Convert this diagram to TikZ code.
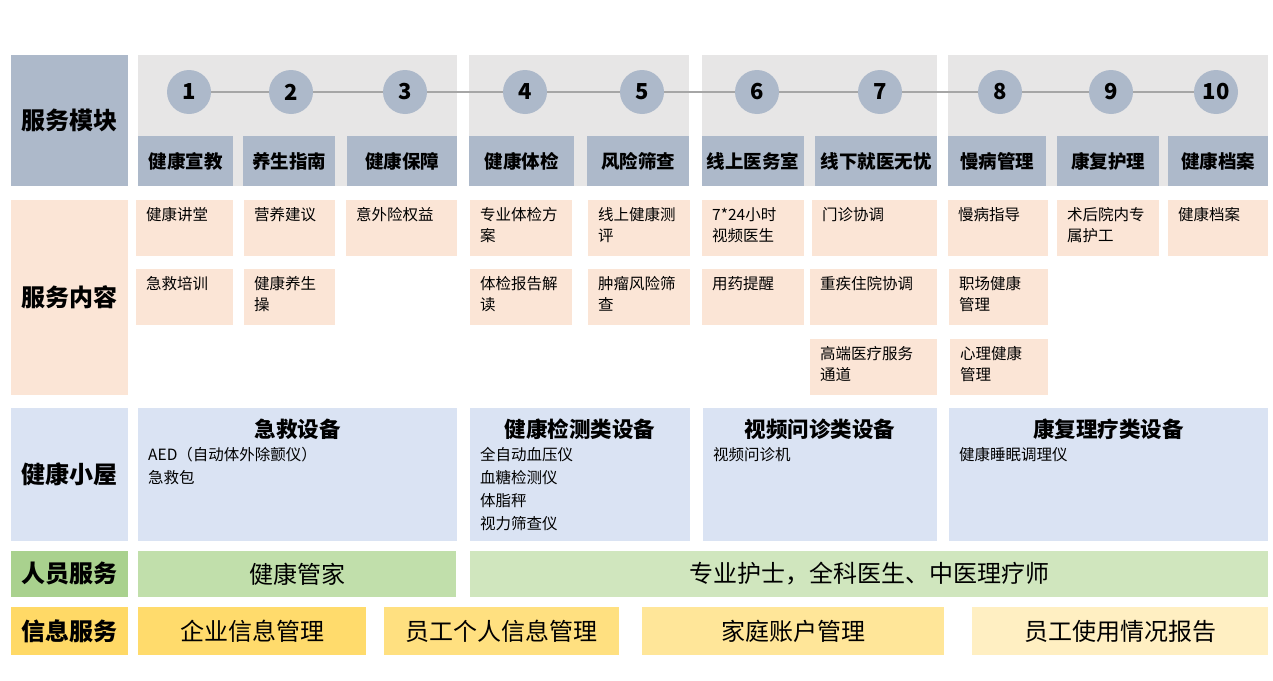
\documentclass[tikz,border=0pt]{standalone}
\usepackage{fontspec}
\setmainfont{Noto Sans CJK SC}
\newcommand\fs[2]{\fontsize{#1}{#2}\selectfont}
\definecolor{modc}{HTML}{ADB9CA}
\definecolor{panelc}{HTML}{E7E6E6}
\definecolor{contc}{HTML}{FBE5D6}
\definecolor{hutc}{HTML}{DAE3F3}
\definecolor{grnA}{HTML}{A9D18E}
\definecolor{grnB}{HTML}{C1DFAB}
\definecolor{grnC}{HTML}{D0E6BE}
\definecolor{ylwA}{HTML}{FFD966}
\definecolor{ylwB}{HTML}{FFDB6C}
\definecolor{ylwC}{HTML}{FFE080}
\definecolor{ylwD}{HTML}{FFE699}
\definecolor{ylwE}{HTML}{FFEFC2}
\definecolor{linec}{HTML}{A6A6A6}
\tikzset{
  rect/.style={fill=#1, draw=none, inner sep=0, outer sep=0, anchor=north west},
  lab/.style={rect=#1, font=\bfseries\fs{24}{28}},
  mod/.style={rect=modc, font=\bfseries\fs{18.5}{22}},
  circ/.style={circle, fill=modc, minimum size=44pt, inner sep=0, font=\bfseries\fs{22}{24}},
  conn/.style={draw=linec, line width=2pt},
  ctext/.style={anchor=north west, inner sep=0, align=left, font=\fs{15.5}{21}},
  htitle/.style={inner sep=0, font=\bfseries\fs{21.5}{24}},
  hitems/.style={anchor=north west, inner sep=0, align=left, font=\fs{15.5}{23}},
  bigtext/.style={font=\fs{24}{28}}
}
% #1 style, #2 x1, #3 y1, #4 x2, #5 y2, #6 name, #7 text
\newcommand\rb[7]{\node[#1, minimum width={#4-#2}, minimum height={#5-#3}] (#6) at (#2,#3) {#7};}
% content box: #1 name, #2..#5 coords, #6 text
\newcommand\cb[6]{\node[rect=contc, minimum width={#4-#2}, minimum height={#5-#3}] (#1) at (#2,#3) {};
  \node[ctext] (#1t) at ([shift={(10,7)}]#1.north west) {#6};}
\begin{document}
\begin{tikzpicture}[x=1pt,y=-1pt]
\useasboundingbox[fill=white] (0,0) rectangle (1273,680);

% ---------- Row 1: service modules ----------
\rb{lab=modc}{11}{55}{128}{186}{L1}{服务模块}
\rb{rect=panelc}{138}{55}{457}{186}{P1}{}
\rb{rect=panelc}{469}{55}{689}{186}{P2}{}
\rb{rect=panelc}{702}{55}{937}{186}{P3}{}
\rb{rect=panelc}{948}{55}{1268}{186}{P4}{}

\rb{mod}{138}{136}{233}{186}{M1}{健康宣教}
\rb{mod}{243}{136}{335}{186}{M2}{养生指南}
\rb{mod}{347}{136}{457}{186}{M3}{健康保障}
\rb{mod}{469}{136}{574}{186}{M4}{健康体检}
\rb{mod}{587}{136}{689}{186}{M5}{风险筛查}
\rb{mod}{702}{136}{804}{186}{M6}{线上医务室}
\rb{mod}{815}{136}{937}{186}{M7}{线下就医无忧}
\rb{mod}{948}{136}{1046}{186}{M8}{慢病管理}
\rb{mod}{1057}{136}{1159}{186}{M9}{康复护理}
\rb{mod}{1168}{136}{1268}{186}{M10}{健康档案}

\node[circ] (c1) at (189,92) {1};
\node[circ] (c2) at (291,92) {2};
\node[circ] (c3) at (405,92) {3};
\node[circ] (c4) at (525,92) {4};
\node[circ] (c5) at (642,92) {5};
\node[circ] (c6) at (757,92) {6};
\node[circ] (c7) at (880,92) {7};
\node[circ] (c8) at (1000,92) {8};
\node[circ] (c9) at (1111,92) {9};
\node[circ] (c10) at (1216,92) {\raisebox{-2pt}{10}};
\foreach \i/\j in {1/2,2/3,3/4,4/5,5/6,6/7,7/8,8/9,9/10}
  \draw[conn] (c\i) -- (c\j);

% ---------- Row 2: service contents ----------
\rb{lab=contc}{11}{200}{128}{395}{L2}{服务内容}
\cb{a1}{136}{200}{233}{256}{健康讲堂}
\cb{b1}{136}{269}{233}{325}{急救培训}
\cb{a2}{244}{200}{335}{256}{营养建议}
\cb{b2}{244}{269}{335}{325}{健康养生\\操}
\cb{a3}{346}{200}{457}{256}{意外险权益}
\cb{a4}{470}{200}{572}{256}{专业体检方\\案}
\cb{b4}{470}{269}{572}{325}{体检报告解\\读}
\cb{a5}{588}{200}{690}{256}{线上健康测\\评}
\cb{b5}{588}{269}{690}{325}{肿瘤风险筛\\查}
\cb{a6}{702}{200}{804}{256}{7*24小时\\视频医生}
\cb{b6}{702}{269}{804}{325}{用药提醒}
\cb{a7}{812}{200}{937}{256}{门诊协调}
\cb{b7}{810}{269}{937}{325}{重疾住院协调}
\cb{c7}{810}{339}{937}{395}{高端医疗服务\\通道}
\cb{a8}{948}{200}{1048}{256}{慢病指导}
\cb{b8}{949}{269}{1048}{325}{职场健康\\管理}
\cb{c8}{950}{339}{1048}{395}{心理健康\\管理}
\cb{a9}{1057}{200}{1159}{256}{术后院内专\\属护工}
\cb{a10}{1168}{200}{1268}{256}{健康档案}

% ---------- Row 3: health hut ----------
\rb{lab=hutc}{11}{408}{128}{541}{L3}{健康小屋}
\rb{rect=hutc}{138}{408}{457}{541}{H1}{}
\rb{rect=hutc}{470}{408}{690}{541}{H2}{}
\rb{rect=hutc}{703}{408}{937}{541}{H3}{}
\rb{rect=hutc}{949}{408}{1268}{541}{H4}{}
\node[htitle] (H1t) at (297.5,429) {急救设备};
\node[htitle] (H2t) at (580,429) {健康检测类设备};
\node[htitle] (H3t) at (820,429) {视频问诊类设备};
\node[htitle] (H4t) at (1108.5,429) {康复理疗类设备};
\node[hitems] (H1i) at (148,447) {AED（自动体外除颤仪）\\急救包};
\node[hitems] (H2i) at (480,447) {全自动血压仪\\血糖检测仪\\体脂秤\\视力筛查仪};
\node[hitems] (H3i) at (713,447) {视频问诊机};
\node[hitems] (H4i) at (959,447) {健康睡眠调理仪};

% ---------- Row 4: staff services ----------
\rb{lab=grnA}{11}{551}{128}{597}{L4}{人员服务}
\rb{rect=grnB, bigtext}{138}{551}{456}{597}{S1}{健康管家}
\rb{rect=grnC, bigtext}{470}{551}{1268}{597}{S2}{专业护士，全科医生、中医理疗师}

% ---------- Row 5: information services ----------
\rb{lab=ylwA}{11}{607}{128}{655}{L5}{信息服务}
\rb{rect=ylwB, bigtext}{138}{607}{366}{655}{I1}{企业信息管理}
\rb{rect=ylwC, bigtext}{384}{607}{619}{655}{I2}{员工个人信息管理}
\rb{rect=ylwD, bigtext}{642}{607}{944}{655}{I3}{家庭账户管理}
\rb{rect=ylwE, bigtext}{972}{607}{1268}{655}{I4}{员工使用情况报告}
\end{tikzpicture}
\end{document}
